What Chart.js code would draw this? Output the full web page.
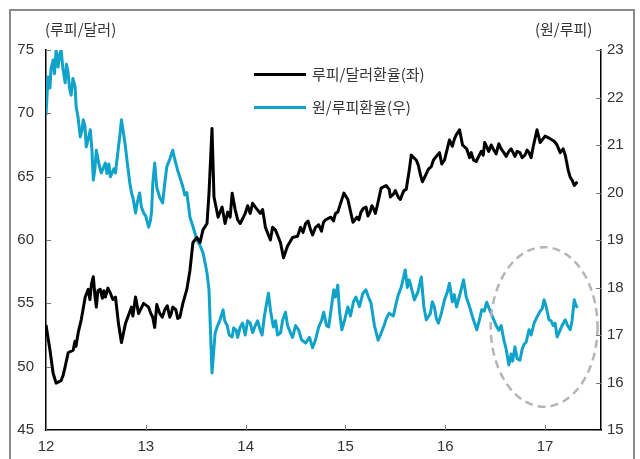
<!DOCTYPE html>
<html>
<head>
<meta charset="utf-8">
<script src="https://cdn.jsdelivr.net/npm/chart.js@4.4.1/dist/chart.umd.min.js"></script>
<style>
  body { margin: 0; background: #fff; }
  #wrap { position: relative; width: 640px; height: 459px; overflow: hidden; }
  #frame { position: absolute; left: 9px; top: 9px; width: 626px; height: 470px;
           border: 2px solid #8a8a8a; border-bottom: none; box-sizing: border-box; }
  canvas { position: absolute; left: 0; top: 0; }
  .txt { position: absolute; font-family: "Noto Sans CJK KR", "Noto Sans", sans-serif;
         font-size: 15px; color: #333; white-space: nowrap; line-height: 18px; }
  .key { position: absolute; height: 3px; width: 52px; }
</style>
</head>
<body>
<div id="wrap">
  <div id="frame"></div>
  <canvas id="chart" width="640" height="459"></canvas>
  <div class="txt" style="left:45px;top:20px;">(루피/달러)</div>
  <div class="txt" style="left:535px;top:20px;">(원/루피)</div>
  <div class="key" style="left:254px;top:73px;background:#000;"></div>
  <div class="txt" style="left:312px;top:65px;">루피/달러환율(좌)</div>
  <div class="key" style="left:254px;top:106px;background:#0fa3c9;"></div>
  <div class="txt" style="left:312px;top:98px;">원/루피환율(우)</div>
</div>
<script>
// x axis: years (12 = 2012)
const yearTicks = [12, 13, 14, 15, 16, 17];
const leftTicks = [45, 50, 55, 60, 65, 70, 75];
const rightTicks = [15, 16, 17, 18, 19, 20, 21, 22, 23];

// rupee / dollar (left axis)
const rupeeT = [12.000, 12.040, 12.071, 12.101, 12.151, 12.171, 12.192, 12.222, 12.272, 12.290,
  12.300, 12.323, 12.353, 12.393, 12.423, 12.440, 12.455, 12.474, 12.490, 12.504,
  12.520, 12.544, 12.565, 12.580, 12.595, 12.620, 12.645, 12.670, 12.696, 12.726,
  12.756, 12.796, 12.857, 12.870, 12.897, 12.927, 12.978, 13.028, 13.050, 13.069,
  13.089, 13.110, 13.139, 13.165, 13.190, 13.215, 13.240, 13.255, 13.270, 13.300,
  13.320, 13.341, 13.371, 13.411, 13.442, 13.472, 13.512, 13.542, 13.573, 13.613,
  13.633, 13.663, 13.683, 13.724, 13.764, 13.794, 13.820, 13.845, 13.865, 13.895,
  13.920, 13.946, 13.996, 14.020, 14.046, 14.070, 14.097, 14.147, 14.170, 14.198,
  14.248, 14.270, 14.298, 14.349, 14.379, 14.419, 14.470, 14.520, 14.550, 14.575,
  14.601, 14.625, 14.651, 14.671, 14.700, 14.732, 14.760, 14.780, 14.802, 14.853,
  14.880, 14.900, 14.923, 14.984, 15.024, 15.075, 15.115, 15.135, 15.155, 15.180,
  15.206, 15.225, 15.246, 15.265, 15.286, 15.300, 15.327, 15.357, 15.407, 15.438,
  15.450, 15.478, 15.500, 15.528, 15.550, 15.569, 15.585, 15.609, 15.639, 15.659,
  15.710, 15.730, 15.750, 15.770, 15.790, 15.831, 15.860, 15.881, 15.910, 15.942,
  15.965, 15.992, 16.042, 16.070, 16.093, 16.110, 16.143, 16.173, 16.214, 16.244,
  16.260, 16.284, 16.310, 16.335, 16.360, 16.380, 16.395, 16.435, 16.460, 16.486,
  16.510, 16.536, 16.560, 16.587, 16.610, 16.637, 16.660, 16.698, 16.720, 16.748,
  16.770, 16.798, 16.820, 16.839, 16.860, 16.879, 16.919, 16.950, 17.000, 17.050,
  17.091, 17.120, 17.151, 17.180, 17.202, 17.232, 17.250, 17.272, 17.292, 17.323];
const rupeeVals = [53.3, 51.3, 49.5, 48.7, 48.9, 49.3, 50.0, 51.1, 51.3, 52.0,
  51.6, 52.7, 53.7, 55.5, 56.1, 55.3, 56.5, 57.1, 55.6, 54.7,
  56.0, 56.1, 55.4, 56.0, 55.5, 56.2, 55.8, 55.3, 55.5, 53.4,
  51.9, 53.4, 54.7, 54.0, 55.5, 54.2, 55.0, 54.7, 54.2, 53.9,
  53.1, 54.9, 54.2, 53.9, 54.5, 54.8, 53.9, 54.2, 54.7, 54.5,
  53.8, 53.9, 55.0, 56.1, 57.6, 59.8, 60.2, 59.8, 60.8, 61.3,
  63.7, 68.8, 63.4, 61.8, 62.6, 61.3, 62.2, 61.8, 63.7, 62.4,
  61.6, 61.3, 62.1, 62.7, 62.1, 62.9, 62.6, 62.1, 62.4, 61.0,
  60.0, 61.0, 60.8, 59.8, 58.6, 59.5, 60.2, 60.3, 61.0, 60.6,
  61.3, 61.5, 60.8, 60.4, 61.0, 61.2, 60.7, 61.4, 61.6, 61.8,
  61.5, 62.1, 62.2, 63.7, 63.2, 61.4, 61.8, 61.6, 62.2, 62.5,
  62.6, 61.9, 62.2, 62.7, 62.4, 62.1, 63.0, 64.1, 64.3, 64.0,
  63.4, 63.6, 63.9, 63.4, 63.2, 63.6, 63.9, 64.0, 65.5, 66.7,
  66.3, 65.9, 65.2, 64.6, 64.9, 65.6, 65.8, 66.3, 66.6, 66.9,
  66.0, 66.3, 67.9, 67.4, 68.0, 68.3, 68.7, 67.5, 67.2, 66.5,
  66.9, 66.3, 66.2, 66.6, 67.0, 66.7, 67.7, 67.0, 67.5, 67.1,
  66.8, 67.6, 67.2, 66.9, 66.6, 67.0, 67.2, 66.6, 67.0, 66.9,
  66.5, 66.7, 67.1, 66.9, 66.5, 67.3, 68.7, 67.7, 68.2, 68.0,
  67.8, 67.5, 66.9, 67.2, 66.7, 65.5, 65.0, 64.7, 64.3, 64.6];

// won / rupee (right axis)
const wonT = [12.000, 12.020, 12.040, 12.050, 12.071, 12.085, 12.101, 12.121, 12.135, 12.151,
  12.170, 12.192, 12.205, 12.222, 12.235, 12.252, 12.270, 12.292, 12.302, 12.320,
  12.343, 12.360, 12.373, 12.390, 12.403, 12.420, 12.444, 12.460, 12.474, 12.490,
  12.504, 12.530, 12.554, 12.570, 12.595, 12.610, 12.630, 12.645, 12.660, 12.680,
  12.696, 12.726, 12.740, 12.756, 12.780, 12.796, 12.810, 12.827, 12.840, 12.857,
  12.870, 12.897, 12.915, 12.938, 12.955, 12.978, 13.000, 13.028, 13.045, 13.058,
  13.070, 13.089, 13.110, 13.139, 13.150, 13.169, 13.190, 13.210, 13.240, 13.270,
  13.290, 13.321, 13.345, 13.371, 13.390, 13.411, 13.442, 13.470, 13.512, 13.540,
  13.573, 13.613, 13.633, 13.663, 13.694, 13.714, 13.744, 13.774, 13.790, 13.815,
  13.835, 13.865, 13.880, 13.905, 13.920, 13.946, 13.970, 13.996, 14.020, 14.046,
  14.070, 14.097, 14.120, 14.147, 14.165, 14.188, 14.228, 14.250, 14.278, 14.300,
  14.320, 14.349, 14.370, 14.399, 14.420, 14.450, 14.470, 14.500, 14.530, 14.560,
  14.601, 14.640, 14.671, 14.700, 14.732, 14.760, 14.782, 14.810, 14.832, 14.860,
  14.883, 14.900, 14.923, 14.940, 14.964, 14.990, 15.024, 15.050, 15.080, 15.105,
  15.140, 15.175, 15.206, 15.230, 15.256, 15.290, 15.327, 15.350, 15.387, 15.410,
  15.438, 15.480, 15.508, 15.530, 15.558, 15.599, 15.620, 15.639, 15.665, 15.690,
  15.725, 15.760, 15.785, 15.810, 15.850, 15.870, 15.891, 15.910, 15.931, 15.960,
  15.992, 16.020, 16.042, 16.070, 16.090, 16.113, 16.140, 16.183, 16.210, 16.244,
  16.270, 16.315, 16.340, 16.365, 16.390, 16.415, 16.450, 16.486, 16.510, 16.536,
  16.560, 16.587, 16.610, 16.637, 16.660, 16.675, 16.698, 16.720, 16.748, 16.770,
  16.788, 16.810, 16.839, 16.860, 16.890, 16.919, 16.950, 16.970, 16.990, 17.010,
  17.040, 17.060, 17.080, 17.100, 17.121, 17.140, 17.170, 17.202, 17.225, 17.252,
  17.270, 17.292, 17.305, 17.323];
const wonVals = [21.63, 22.43, 22.2, 22.6, 22.79, 22.5, 23.0, 22.64, 22.9, 23.0,
  22.6, 22.31, 22.7, 22.52, 22.2, 22.05, 22.4, 22.22, 21.8, 21.6,
  21.17, 21.3, 21.53, 21.4, 20.96, 21.1, 21.32, 20.9, 20.26, 20.5,
  20.89, 20.6, 20.41, 20.5, 20.62, 20.4, 20.6, 20.33, 20.4, 20.5,
  20.41, 20.96, 21.2, 21.53, 21.2, 20.96, 20.7, 20.41, 20.2, 19.99,
  19.9, 19.57, 19.8, 19.99, 19.7, 19.57, 19.5, 19.27, 19.4, 19.6,
  20.2, 20.62, 20.1, 19.9, 19.85, 19.78, 20.2, 20.54, 20.7, 20.89,
  20.7, 20.45, 20.3, 20.12, 19.95, 20.0, 19.48, 19.3, 19.0, 18.9,
  18.73, 18.31, 17.95, 16.2, 17.04, 17.17, 17.32, 17.53, 17.3, 17.2,
  17.0, 16.96, 17.15, 17.1, 16.95, 17.17, 17.25, 17.0, 17.3, 17.25,
  17.05, 17.2, 17.3, 17.1, 17.0, 17.4, 17.88, 17.5, 17.17, 17.3,
  17.0, 17.04, 17.3, 17.48, 17.2, 17.04, 16.95, 17.2, 17.11, 16.9,
  16.83, 16.95, 16.73, 16.9, 17.17, 17.3, 17.48, 17.2, 17.17, 17.6,
  17.95, 17.8, 18.05, 17.5, 17.11, 17.3, 17.59, 17.4, 17.7, 17.8,
  17.6, 17.88, 17.95, 17.8, 17.67, 17.2, 16.89, 17.0, 17.2, 17.35,
  17.46, 17.4, 17.67, 17.85, 18.0, 18.37, 18.0, 18.16, 17.95, 17.74,
  17.9, 18.22, 17.6, 17.32, 17.45, 17.7, 17.59, 17.35, 17.25, 17.45,
  17.74, 17.9, 18.09, 17.7, 17.85, 17.59, 17.8, 18.16, 17.8, 17.59,
  17.4, 17.11, 17.3, 17.53, 17.5, 17.69, 17.5, 17.32, 17.2, 17.1,
  17.2, 16.89, 16.7, 16.37, 16.6, 16.45, 16.75, 16.5, 16.47, 16.7,
  16.8, 16.85, 17.11, 17.0, 17.25, 17.38, 17.5, 17.55, 17.74, 17.6,
  17.32, 17.3, 17.2, 17.25, 16.96, 17.05, 17.2, 17.32, 17.2, 17.11,
  17.3, 17.74, 17.65, 17.57];

// dashed ellipse marking the recent period (x in years, y on right axis)
const ringCenter = [16.99, 17.17];
const ringRadius = [0.535, 1.68];

const tickFont = { family: "'Liberation Sans', Arial, sans-serif", size: 15 };

// small tick marks pointing into the plot
const innerTicks = {
  id: 'innerTicks',
  afterDraw(chart) {
    const { ctx, chartArea: a, scales } = chart;
    ctx.save();
    ctx.strokeStyle = '#777';
    ctx.lineWidth = 1;
    ctx.beginPath();
    yearTicks.forEach(v => {
      const px = Math.round(scales.x.getPixelForValue(v)) + 0.5;
      ctx.moveTo(px, a.bottom); ctx.lineTo(px, a.bottom - 5);
    });
    leftTicks.forEach(v => {
      const py = Math.round(scales.y.getPixelForValue(v)) + 0.5;
      ctx.moveTo(a.left, py); ctx.lineTo(a.left + 5, py);
    });
    rightTicks.forEach(v => {
      const py = Math.round(scales.y2.getPixelForValue(v)) + 0.5;
      ctx.moveTo(a.right, py); ctx.lineTo(a.right - 5, py);
    });
    ctx.stroke();
    ctx.restore();
  }
};

const ring = {
  id: 'ring',
  afterDatasetsDraw(chart) {
    const { ctx, scales } = chart;
    const cx = scales.x.getPixelForValue(ringCenter[0]);
    const cy = scales.y2.getPixelForValue(ringCenter[1]);
    const rx = scales.x.getPixelForValue(ringCenter[0] + ringRadius[0]) - cx;
    const ry = cy - scales.y2.getPixelForValue(ringCenter[1] + ringRadius[1]);
    ctx.save();
    ctx.strokeStyle = '#b5b5b5';
    ctx.lineWidth = 2.5;
    ctx.setLineDash([8, 5]);
    ctx.beginPath();
    ctx.ellipse(cx, cy, rx, ry, 0, 0, Math.PI * 2);
    ctx.stroke();
    ctx.restore();
  }
};

const ctx = document.getElementById('chart').getContext('2d');
new Chart(ctx, {
  type: 'line',
  data: {
    datasets: [{
      label: '루피/달러환율(좌)',
      data: rupeeT.map((t, i) => ({ x: t, y: rupeeVals[i] })),
      borderColor: '#000',
      borderWidth: 3,
      yAxisID: 'y'
    }, {
      label: '원/루피환율(우)',
      data: wonT.map((t, i) => ({ x: t, y: wonVals[i] })),
      borderColor: '#0fa3c9',
      borderWidth: 3,
      yAxisID: 'y2'
    }]
  },
  options: {
    responsive: false,
    animation: false,
    layout: { padding: { top: 50, left: 0, right: 0, bottom: 0 } },
    elements: { point: { radius: 0 }, line: { tension: 0, borderJoinStyle: 'round' } },
    plugins: { legend: { display: false }, tooltip: { enabled: false } },
    scales: {
      x: {
        type: 'linear', min: 12, max: 17.56,
        afterFit: s => { s.height = 29; },
        afterBuildTicks: s => { s.ticks = yearTicks.map(v => ({ value: v })); },
        ticks: { font: tickFont, color: '#333', padding: 8, maxRotation: 0, includeBounds: false },
        grid: { display: false, drawTicks: false },
        border: { color: '#000', width: 1.5 }
      },
      y: {
        position: 'left', min: 45, max: 75,
        afterFit: s => { s.width = 46; },
        afterBuildTicks: s => { s.ticks = leftTicks.map(v => ({ value: v })); },
        ticks: { font: tickFont, color: '#333', padding: 12 },
        grid: { display: false, drawTicks: false },
        border: { color: '#000', width: 1.5 }
      },
      y2: {
        position: 'right', min: 15, max: 23,
        afterFit: s => { s.width = 39; },
        afterBuildTicks: s => { s.ticks = rightTicks.map(v => ({ value: v })); },
        ticks: { font: tickFont, color: '#333', padding: 6 },
        grid: { display: false, drawTicks: false },
        border: { color: '#000', width: 1.5 }
      }
    }
  },
  plugins: [innerTicks, ring]
});
</script>
</body>
</html>
